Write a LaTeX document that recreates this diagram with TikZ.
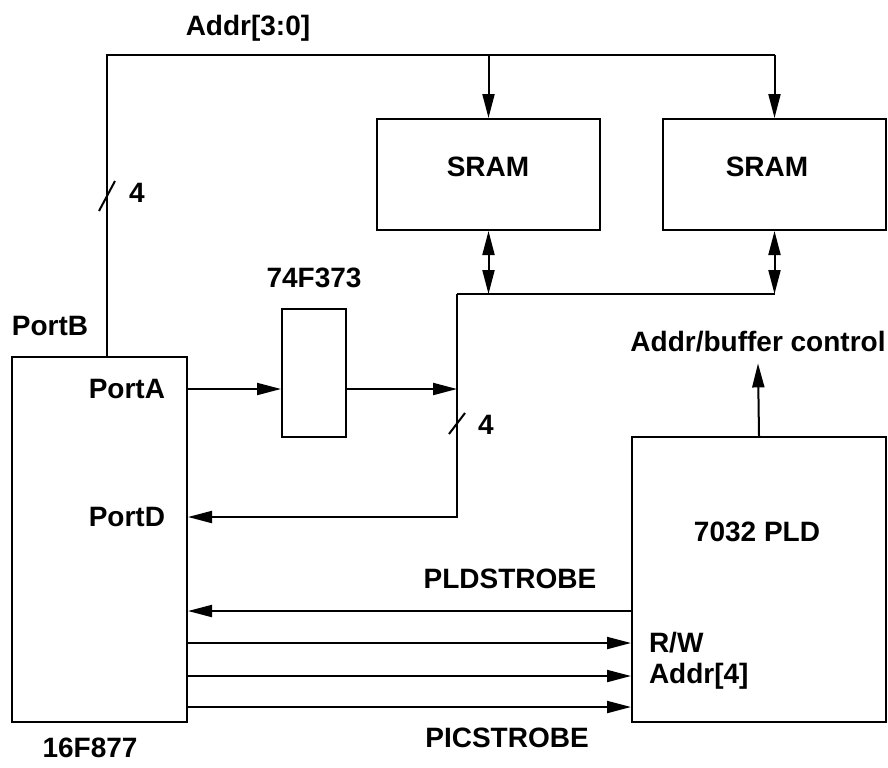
\documentclass[tikz,border=0pt]{standalone}
\usepackage{fontspec}
\setmainfont{Liberation Sans}
\usetikzlibrary{arrows.meta}
\begin{document}
\begin{tikzpicture}[x=0.5pt, y=-0.5pt, line width=1pt,
        >={Triangle[length=12pt, width=6pt]},
        every node/.style={font=\fontsize{14}{16}\selectfont\bfseries, inner sep=0pt},
        chip/.style={draw, rectangle}]
        \useasboundingbox (0,0) rectangle (888,767);
        % boxes
        \node[chip, minimum width=87.5pt, minimum height=182.5pt] (pic) at (99.5,539.5) {};
        \node[chip, minimum width=32pt, minimum height=64pt] (latch) at (314,373) {};
        \node[chip, minimum width=111.5pt, minimum height=55.5pt] (sramA) at (488.5,174.5) {};
        \node[chip, minimum width=111.5pt, minimum height=55.5pt] (sramB) at (774.5,174.5) {};
        \node[chip, minimum width=127pt, minimum height=142.5pt] (pld) at (759,579.5) {};
        % labels
        \node at (488,167) {SRAM};
        \node at (767,167) {SRAM};
        \node at (757,532) {7032 PLD};
        \node at (90,748) {16F877};
        \node at (314,278) {74F373};
        \node at (248,28) {Addr[3:0]};
        \node at (50,326) {PortB};
        \node[anchor=east] (porta) at (166,389) {PortA};
        \node[anchor=east] (portd) at (166,517) {PortD};
        \node at (510,579) {PLDSTROBE};
        \node at (507,738) {PICSTROBE};
        \node[anchor=west] (rw) at (648,643) {R/W};
        \node[anchor=west] (addr) at (648,676) {Addr[4]};
        \node (ctrl) at (758,342) {Addr/buffer control};
        % address bus
        \coordinate (top) at (107,55);
        \draw (pic.north -| top) -- (top) -- (top -| sramB.north);
        \draw[->] (top -| sramA.north) -- (sramA.north);
        \draw[->] (top -| sramB.north) -- (sramB.north);
        \draw (99,211) -- (115,181);
        \node at (137,193) {4};
        % data bus
        \coordinate (bus) at (457,294);
        \draw[<->] (sramA.south) -- (sramA.south |- bus);
        \draw[<->] (sramB.south) -- (sramB.south |- bus);
        \draw (bus) -- (bus -| sramB.south);
        \draw[->] (pic.east |- porta) -- (latch.west |- porta);
        \draw[->] (latch.east |- porta) -- (bus |- porta);
        \draw[->] (bus) -- (bus |- portd) -- (pic.east |- portd);
        \draw (449,434) -- (465,413);
        \node at (486,425) {4};
        % PLD lines
        \draw[->] (pld.north) -- ([yshift=-5pt]ctrl.south);
        \coordinate (strobe) at (0,611);
        \coordinate (pics) at (0,707);
        \draw[->] (pld.west |- strobe) -- (pic.east |- strobe);
        \draw[->] (pic.east |- rw) -- (pld.west |- rw);
        \draw[->] (pic.east |- addr) -- (pld.west |- addr);
        \draw[->] (pic.east |- pics) -- (pld.west |- pics);
\end{tikzpicture}
\end{document}
